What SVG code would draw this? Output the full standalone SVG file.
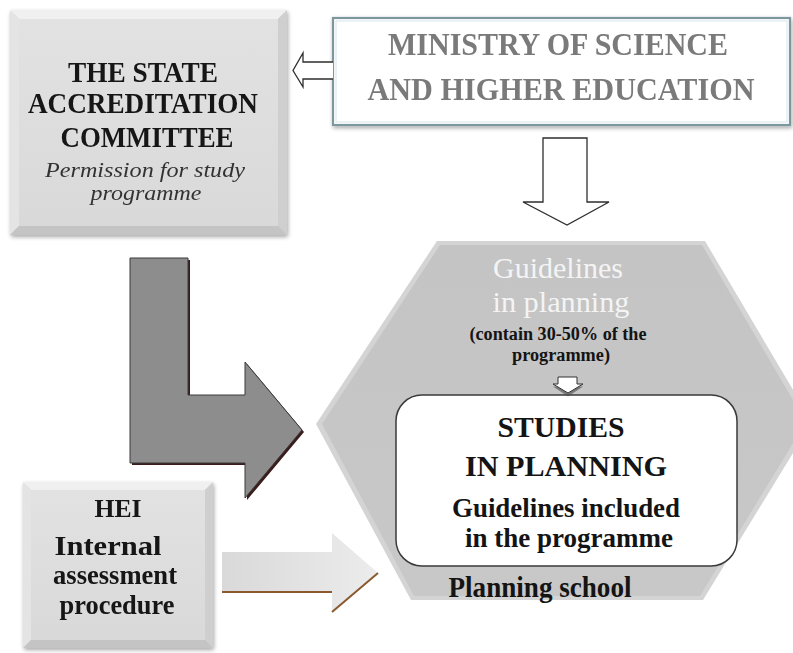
<svg xmlns="http://www.w3.org/2000/svg" width="793" height="653" viewBox="0 0 793 653">
  <defs>
    <style>
      .t { font-family: "Liberation Serif", "Times New Roman", serif; text-anchor: middle; }
      .b { font-weight: bold; }
      .it { font-style: italic; }
      .dark { fill: #141414; }
      .block { fill: #ffffff; stroke: #2e2e2e; stroke-width: 1.3; stroke-linejoin: miter; }
    </style>
    <linearGradient id="faceGrad" x1="0" y1="0" x2="0" y2="1">
      <stop offset="0" stop-color="#e2e2e2"/>
      <stop offset="1" stop-color="#d9d9d9"/>
    </linearGradient>
    <linearGradient id="hexGrad" x1="0" y1="0" x2="0" y2="1">
      <stop offset="0" stop-color="#c4c4c4"/>
      <stop offset="1" stop-color="#c8c8c8"/>
    </linearGradient>
    <linearGradient id="heiArrowGrad" x1="0" y1="0" x2="1" y2="0">
      <stop offset="0" stop-color="#d9d9d9"/>
      <stop offset="1" stop-color="#ececec"/>
    </linearGradient>
    <filter id="softShadow" x="-10%" y="-10%" width="125%" height="125%">
      <feGaussianBlur in="SourceAlpha" stdDeviation="2"/>
      <feOffset dx="1" dy="2" result="off"/>
      <feComponentTransfer><feFuncA type="linear" slope="0.35"/></feComponentTransfer>
      <feMerge><feMergeNode/><feMergeNode in="SourceGraphic"/></feMerge>
    </filter>
  </defs>

  <rect x="0" y="0" width="793" height="653" fill="#ffffff"/>

  <!-- Planning school hexagon with the studies box inside -->
  <g id="planning-school">
    <polygon points="437,241 705,241 812,422 703,600 411,600 316,424" fill="#d4d4d4"/>
    <polygon points="440,245 702,245 806,422 700,596 414,596 322,424" fill="url(#hexGrad)"/>
    <text class="t" x="558" y="278" font-size="30" fill="#f4f4f4" textLength="130" lengthAdjust="spacingAndGlyphs">Guidelines</text>
    <text class="t" x="561" y="312" font-size="30" fill="#f4f4f4" textLength="137" lengthAdjust="spacingAndGlyphs">in planning</text>
    <text class="t b dark" x="558" y="340" font-size="18" textLength="177" lengthAdjust="spacingAndGlyphs">(contain 30-50% of the</text>
    <text class="t b dark" x="561" y="361" font-size="18" textLength="98" lengthAdjust="spacingAndGlyphs">programme)</text>
    <text class="t b dark" x="540" y="597" font-size="29" textLength="183" lengthAdjust="spacingAndGlyphs">Planning school</text>
  </g>

  <g id="studies-in-planning">
    <rect x="396" y="395" width="341" height="171" rx="26" ry="26" fill="#ffffff" stroke="#3a3a3a" stroke-width="1.5"/>
    <text class="t b dark" x="561" y="437" font-size="30" textLength="127" lengthAdjust="spacingAndGlyphs">STUDIES</text>
    <text class="t b dark" x="566" y="476" font-size="30" textLength="202" lengthAdjust="spacingAndGlyphs">IN PLANNING</text>
    <text class="t b dark" x="566" y="517" font-size="28" textLength="228" lengthAdjust="spacingAndGlyphs">Guidelines included</text>
    <text class="t b dark" x="569" y="547" font-size="28" textLength="208" lengthAdjust="spacingAndGlyphs">in the programme</text>
  </g>

  <!-- State accreditation committee: bevelled box -->
  <g id="state-committee" filter="url(#softShadow)">
    <rect x="19" y="19" width="259" height="207" fill="url(#faceGrad)"/>
    <polygon points="10,10 287,10 278,19 19,19" fill="#f0f0f0"/>
    <polygon points="10,10 19,19 19,226 10,235" fill="#e4e4e4"/>
    <polygon points="287,10 287,235 278,226 278,19" fill="#cfcfcf"/>
    <polygon points="10,235 19,226 278,226 287,235" fill="#c4c4c4"/>
    <text class="t b dark" x="143" y="82" font-size="29" textLength="150" lengthAdjust="spacingAndGlyphs">THE STATE</text>
    <text class="t b dark" x="143" y="113" font-size="29" textLength="230" lengthAdjust="spacingAndGlyphs">ACCREDITATION</text>
    <text class="t b dark" x="147" y="147" font-size="29" textLength="173" lengthAdjust="spacingAndGlyphs">COMMITTEE</text>
    <text class="t it" x="145" y="177" font-size="22" fill="#333333" textLength="200" lengthAdjust="spacingAndGlyphs">Permission for study</text>
    <text class="t it" x="146" y="200" font-size="22" fill="#333333" textLength="111" lengthAdjust="spacingAndGlyphs">programme</text>
  </g>

  <!-- Ministry box -->
  <g id="ministry" filter="url(#softShadow)">
    <rect x="333" y="18" width="457" height="107" fill="#ffffff" stroke="#7d979e" stroke-width="2.2"/>
    <rect x="336" y="21" width="451" height="101" fill="none" stroke="#dceaf0" stroke-width="1.2"/>
    <text class="t b" x="558" y="55" font-size="31" fill="#7a7a7a" textLength="340" lengthAdjust="spacingAndGlyphs">MINISTRY OF SCIENCE</text>
    <text class="t b" x="561" y="100" font-size="31" fill="#7a7a7a" textLength="387" lengthAdjust="spacingAndGlyphs">AND HIGHER EDUCATION</text>
  </g>

  <!-- HEI: bevelled box -->
  <g id="hei" filter="url(#softShadow)">
    <rect x="31" y="490" width="174" height="150" fill="url(#faceGrad)"/>
    <polygon points="23,482 213,482 205,490 31,490" fill="#f0f0f0"/>
    <polygon points="23,482 31,490 31,640 23,648" fill="#e4e4e4"/>
    <polygon points="213,482 213,648 205,640 205,490" fill="#cfcfcf"/>
    <polygon points="23,648 31,640 205,640 213,648" fill="#c4c4c4"/>
    <text class="t b dark" x="118" y="517" font-size="25" textLength="47" lengthAdjust="spacingAndGlyphs">HEI</text>
    <text class="t b dark" x="108" y="555" font-size="27" textLength="107" lengthAdjust="spacingAndGlyphs">Internal</text>
    <text class="t b dark" x="115" y="584" font-size="27" textLength="124" lengthAdjust="spacingAndGlyphs">assessment</text>
    <text class="t b dark" x="117" y="614" font-size="27" textLength="115" lengthAdjust="spacingAndGlyphs">procedure</text>
  </g>

  <!-- Connectors: block arrows -->
  <g id="connectors">
    <!-- ministry to state committee -->
    <path class="block" d="M333,62 L303,62 L303,53 L293,70.5 L303,87 L303,79 L333,79"/>
    <!-- ministry down to guidelines -->
    <path class="block" d="M543,138 L587,138 L587,202 L609,202 L567,225 L523,202 L543,202 Z"/>
    <!-- guidelines down to studies -->
    <path d="M558,378 L577,378 L577,385 L583,385 L568,395 L553,385 L558,385 Z" fill="#4a4a4a" opacity="0.6" transform="translate(0,1.5)"/>
    <path d="M558,377 L577,377 L577,384 L583,384 L568,393 L553,384 L558,384 Z" fill="#ffffff" stroke="#333333" stroke-width="1"/>
    <!-- state committee bent arrow into planning school -->
    <path d="M130,258 L188,258 L188,395 L245,395 L245,362 L302,430 L245,498 L245,463 L130,463 Z" fill="#3a1c1c" transform="translate(2,2)"/>
    <path d="M130,258 L188,258 L188,395 L245,395 L245,362 L302,430 L245,498 L245,463 L130,463 Z" fill="#8d8d8d" stroke="#3a3a3a" stroke-width="1"/>
    <!-- HEI arrow into planning school -->
    <path d="M222,552 L332,552 L332,533 L378,573 L332,612 L332,592 L222,592 Z" fill="url(#heiArrowGrad)"/>
    <path d="M222,592 L332,592 M332,612 L378,573" fill="none" stroke="#8a5a2e" stroke-width="2"/>
  </g>
</svg>
